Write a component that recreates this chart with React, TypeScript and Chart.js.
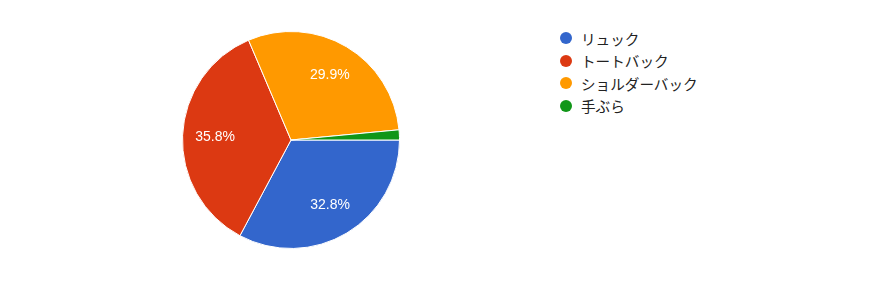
import React, { useEffect, useRef } from "react";
import { Chart, registerables } from "chart.js";

Chart.register(...registerables);

const labels = ["リュック", "トートバック", "ショルダーバック", "手ぶら"];
const values = [32.8, 35.8, 29.9, 1.5];
const colors = ["#3366CC", "#DC3912", "#FF9900", "#109618"];

const pctLabelPlugin = {
  id: "pctLabels",
  afterDatasetsDraw(chart: any) {
    const ctx = chart.ctx;
    const meta = chart.getDatasetMeta(0);
    const data = chart.data.datasets[0].data as number[];
    const total = data.reduce((a, b) => a + b, 0);
    ctx.save();
    ctx.font = "14px 'Liberation Sans', Arial, sans-serif";
    ctx.fillStyle = "#ffffff";
    ctx.textAlign = "center";
    ctx.textBaseline = "middle";
    meta.data.forEach((arc: any, i: number) => {
      const pct = (data[i] / total) * 100;
      if (pct < 5) return;
      const { x, y, startAngle, endAngle, outerRadius } = arc.getProps(
        ["x", "y", "startAngle", "endAngle", "outerRadius"],
        true
      );
      const mid = (startAngle + endAngle) / 2;
      const r = outerRadius * 0.7;
      ctx.fillText(data[i].toFixed(1) + "%", x + Math.cos(mid) * r, y + Math.sin(mid) * r);
    });
    ctx.restore();
  },
};

export default function App() {
  const ref = useRef<HTMLCanvasElement | null>(null);
  useEffect(() => {
    if (!ref.current) return;
    const chart = new Chart(ref.current, {
      type: "pie",
      data: {
        labels,
        datasets: [
          {
            data: values,
            backgroundColor: colors,
            borderColor: "#ffffff",
            borderWidth: 1,
          },
        ],
      },
      options: {
        animation: false,
        responsive: false,
        rotation: 90,
        layout: { padding: 6 },
        plugins: {
          legend: { display: false },
          tooltip: { enabled: false },
        },
      },
      plugins: [pctLabelPlugin],
    });
    return () => chart.destroy();
  }, []);

  return (
    <div style={{ position: "relative", width: 870, height: 274, background: "#fff" }}>
      <div style={{ position: "absolute", left: 168, top: 16.5, width: 230, height: 230 }}>
        <canvas ref={ref} width={230} height={230} style={{ width: 230, height: 230 }} />
      </div>
      <div
        style={{
          position: "absolute",
          left: 552,
          top: 19,
          display: "flex",
          flexDirection: "column",
          fontFamily: "Roboto, 'Noto Sans CJK JP', sans-serif",
          fontSize: 14.6,
          color: "#222222",
        }}
      >
        {labels.map((l, i) => (
          <div key={l} style={{ display: "flex", alignItems: "center", height: 22.5 }}>
            <span
              style={{
                display: "inline-block",
                width: 12,
                height: 12,
                borderRadius: "50%",
                background: colors[i],
                marginRight: 9,
              }}
            />
            <span>{l}</span>
          </div>
        ))}
      </div>
    </div>
  );
}
